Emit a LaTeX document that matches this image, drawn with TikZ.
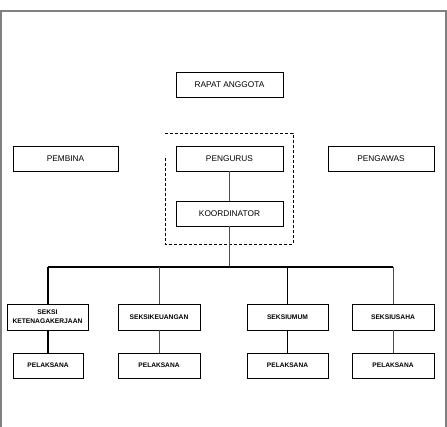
\documentclass[tikz,border=0pt]{standalone}
\usepackage{fontspec}
\setmainfont{Liberation Sans}
\usetikzlibrary{calc}

\begin{document}
\begin{tikzpicture}[x=1pt, y=-1pt,
  box/.style={draw, line width=0.8pt, minimum height=25pt, inner sep=0pt, font=\fontsize{8.3}{9}\selectfont},
  seksi/.style={box, minimum height=26pt, font=\fontsize{6.7}{9}\selectfont\bfseries},
  pelaksana/.style={box, font=\fontsize{6.6}{8}\selectfont\bfseries},
  tebal/.style={line width=1.4pt},
  tipis/.style={line width=0.5pt, black!70}]
  \useasboundingbox (0,0) rectangle (447,427);
  % bingkai luar
  \draw[gray, line width=1.5pt] (0.8,427) -- (0.8,11) -- (445.8,11) -- (445.8,427);

  \node[box, minimum width=107pt] (rapat) at (229.5,84.5) {RAPAT ANGGOTA};
  \node[box, minimum width=105pt] (pembina) at (65.5,158.5) {PEMBINA};
  \node[box, minimum width=107pt] (pengurus) at (229.5,158.5) {PENGURUS};
  \node[box, minimum width=106pt] (pengawas) at (381,158.5) {PENGAWAS};
  \node[box, minimum width=107pt] (koord) at (229.5,213.5) {KOORDINATOR};

  % kotak putus-putus pengurus
  \draw[dash pattern=on 3pt off 2pt, line width=0.6pt]
    (165,158) -- (165,244) -- (293,244) -- (293,133) -- (165,133);

  % seksi
  \node[seksi, minimum width=81pt, align=center] (sk1) at (47.5,317) {SEKSI\\KETENAGAKERJAAN};
  \node[seksi, minimum width=82pt] (sk2) at (159,317) {SEKSIKEUANGAN};
  \node[seksi, minimum width=81pt] (sk3) at (287.5,317) {SEKSIUMUM};
  \node[seksi, minimum width=82pt] (sk4) at (393,317) {SEKSIUSAHA};

  % pelaksana
  \node[pelaksana, minimum width=70pt] (p1) at (48,365.5) {PELAKSANA};
  \node[pelaksana, minimum width=82pt] (p2) at (159,365.5) {PELAKSANA};
  \node[pelaksana, minimum width=81pt] (p3) at (287.5,365.5) {PELAKSANA};
  \node[pelaksana, minimum width=82pt] (p4) at (393,365.5) {PELAKSANA};

  \coordinate (bus) at (229.5,267);
  \coordinate (busL) at (48,267);
  \coordinate (busR) at (393,267);

  \draw[tipis] (pengurus) -- (koord);
  \draw[tipis] (koord) -- (bus);
  \draw[tebal] (busL) -- (busR);
  \draw[tebal] (busL) -- (busL |- sk1.north);
  \draw[tipis] (sk2.north |- bus) -- (sk2);
  \draw[tebal] (sk3.north |- bus) -- (sk3);
  \draw[tipis] (busR) -- (sk4);
  \draw[tebal] (sk1.south -| p1) -- (p1);
  \draw[tipis] (sk2) -- (p2);
  \draw[tebal] (sk3) -- (p3);
  \draw[tipis] (sk4) -- (p4);
\end{tikzpicture}
\end{document}
